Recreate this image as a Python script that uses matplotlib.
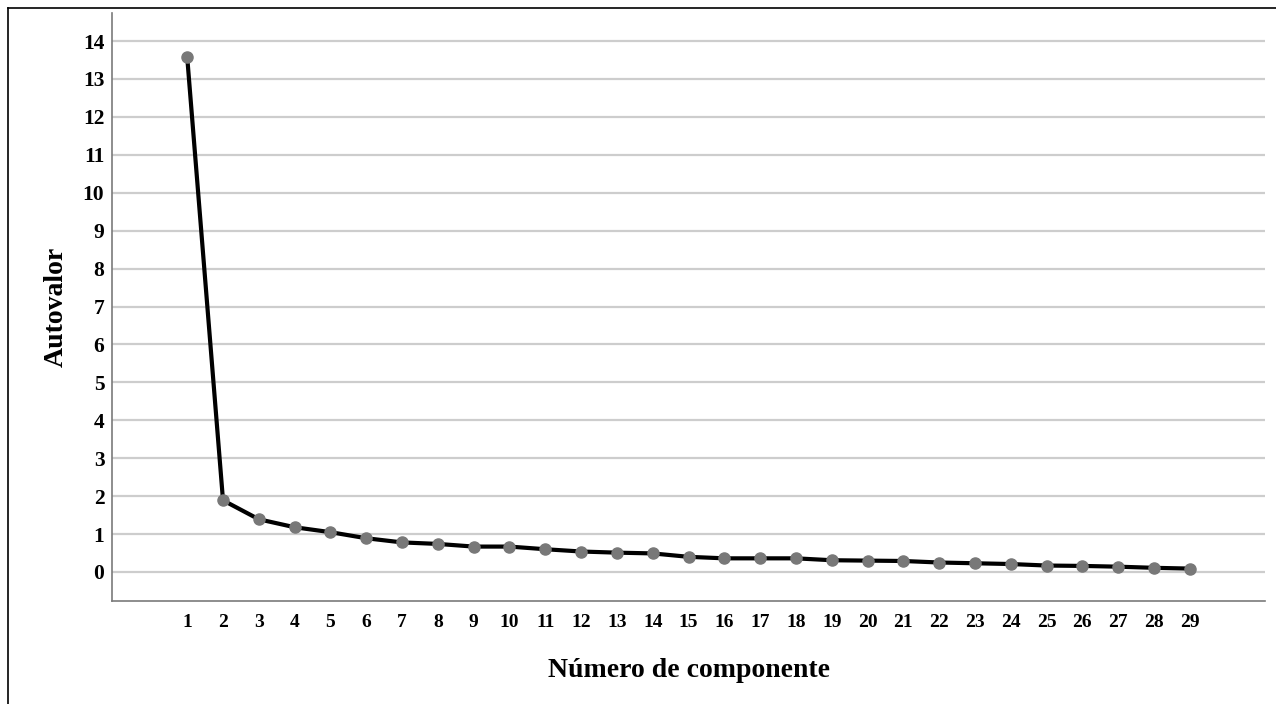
import matplotlib
matplotlib.use("Agg")
import matplotlib.pyplot as plt
from matplotlib.lines import Line2D

components = list(range(1, 30))
eigenvalues = [13.58, 1.89, 1.39, 1.18, 1.05, 0.89, 0.78, 0.74, 0.67, 0.67,
               0.60, 0.54, 0.51, 0.49, 0.40, 0.36, 0.36, 0.36, 0.31, 0.30,
               0.29, 0.25, 0.23, 0.21, 0.17, 0.16, 0.14, 0.11, 0.09]
y_ticks = list(range(0, 15))
x_label = "Número de componente"
y_label = "Autovalor"

plt.rcParams['font.family'] = ['Liberation Serif', 'DejaVu Serif']
plt.rcParams['font.weight'] = 'bold'

fig = plt.figure(figsize=(12.76, 7.04), dpi=100)
ax = fig.add_axes([112/1276, 1 - 601/704, (1265-112)/1276, (601-13)/704])

ax.plot(components, eigenvalues, color='black', linewidth=3.0, zorder=3,
        marker='o', markersize=8, markerfacecolor='#787878',
        markeredgecolor='#787878', solid_capstyle='round')

ax.set_xlim(-1.1, 31.1)
ax.set_ylim(-0.765, 14.74)
ax.set_xticks(components)
ax.set_xticklabels([str(c) for c in components])
ax.set_yticks(y_ticks)
ax.set_yticklabels([str(t) for t in y_ticks])
ax.tick_params(axis='both', length=0, colors='black')
ax.tick_params(axis='x', pad=9.5, labelsize=14)
ax.tick_params(axis='y', pad=5.5, labelsize=15.5)
for lbl in ax.get_xticklabels() + ax.get_yticklabels():
    lbl.set_fontweight('bold')

ax.yaxis.grid(True, color='#cdcdcd', linewidth=1.6, zorder=0)
ax.set_axisbelow(True)

for s in ['top', 'right']:
    ax.spines[s].set_visible(False)
for s in ['left', 'bottom']:
    ax.spines[s].set_color('#7a7a7a')
    ax.spines[s].set_linewidth(1.2)

ax.set_xlabel(x_label, fontsize=20, fontweight='bold', labelpad=19)
ax.set_ylabel(y_label, fontsize=20, fontweight='bold', labelpad=10)

# outer frame (left and top)
fig.add_artist(Line2D([7.5/1276, 7.5/1276], [0, 1 - 8/704], color='black', linewidth=1.2, transform=fig.transFigure))
fig.add_artist(Line2D([7.5/1276, 1], [1 - 8/704, 1 - 8/704], color='black', linewidth=1.2, transform=fig.transFigure))

fig.savefig("out.png", dpi=100)
